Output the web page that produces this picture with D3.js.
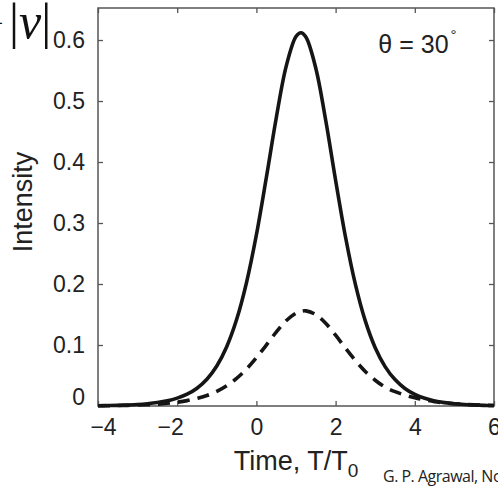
<!DOCTYPE html>
<meta charset="utf-8">
<style>
body { margin: 0; background: #fff; }
svg { display: block; font-family: "Liberation Sans", Arial, sans-serif; }
.frame { fill: none; stroke: #555; stroke-width: 1.5; }
.axis path { display: none; }
.axis line { stroke: #555; stroke-width: 1.3; }
.axis text { fill: #222; font-size: 23px; font-family: "Liberation Sans", Arial, sans-serif; }
.curve { fill: none; stroke: #151515; stroke-width: 3.6; stroke-linejoin: round; }
</style>
<body>
<svg width="498" height="486"></svg>
</body>
<script src="https://d3js.org/d3.v7.min.js"></script>
<script>

// normalized time T/T0
var timeValues = [-4, -3.75, -3.5, -3.25, -3, -2.75, -2.5, -2.25, -2, -1.75, -1.5, -1.25, -1, -0.75, -0.5, -0.25,
  0, 0.25, 0.5, 0.75, 1, 1.125, 1.25, 1.5, 1.75, 2, 2.25, 2.5, 2.75, 3, 3.25, 3.5, 3.75,
  4, 4.25, 4.5, 4.75, 5, 5.25, 5.5, 5.75, 6];

// solid curve
var solidIntensity = [0.0005, 0.0007, 0.001, 0.0016, 0.0024, 0.0037, 0.0056, 0.0084, 0.0129, 0.0193, 0.0292, 0.0439, 0.0656, 0.0972, 0.1417, 0.2024,
  0.2807, 0.3741, 0.4718, 0.5564, 0.6058, 0.612, 0.6048, 0.5537, 0.4684, 0.3702, 0.2771, 0.1994, 0.1395, 0.0956, 0.0646, 0.0433, 0.0288,
  0.0191, 0.0126, 0.0083, 0.0055, 0.0036, 0.0024, 0.0016, 0.001, 0.0007];

// dashed curve
var dashedIntensity = [0.0004, 0.0005, 0.0007, 0.0011, 0.0015, 0.0021, 0.003, 0.0044, 0.0062, 0.0088, 0.0126, 0.0173, 0.0241, 0.0333, 0.0453, 0.0606,
  0.0792, 0.0998, 0.1211, 0.1397, 0.1522, 0.1553, 0.156, 0.1499, 0.1356, 0.1161, 0.0948, 0.0745, 0.0567, 0.0422, 0.031, 0.0235, 0.018,
  0.0135, 0.01, 0.0072, 0.0052, 0.0037, 0.0026, 0.0018, 0.0012, 0.0008];

var xTicks = [-4, -2, 0, 2, 4, 6];
var yTicks = [0, 0.1, 0.2, 0.3, 0.4, 0.5, 0.6];

var svg = d3.select("svg"),
    margin = {top: 8, right: 4, bottom: 80, left: 98},
    width = +svg.attr("width") - margin.left - margin.right,
    height = +svg.attr("height") - margin.top - margin.bottom;

var x = d3.scaleLinear().domain([-4, 6]).range([0, width]),
    y = d3.scaleLinear().domain([0, 0.6525]).range([height, 0]);

var g = svg.append("g")
    .attr("transform", "translate(" + margin.left + "," + margin.top + ")");

// inward ticks on all four sides
g.append("g")
    .attr("class", "axis axis--x")
    .attr("transform", "translate(0," + height + ")")
    .call(d3.axisBottom(x).tickValues(xTicks).tickSizeInner(-5).tickSizeOuter(0).tickPadding(13))
  .selectAll("text")
    .attr("dx", function(d) { return d === -4 ? 5 : (d < 0 ? -7 : 0); });

g.append("g")
    .attr("class", "axis axis--top")
    .call(d3.axisTop(x).tickValues(xTicks).tickSizeInner(-5).tickSizeOuter(0).tickFormat(""));

g.append("g")
    .attr("class", "axis axis--y")
    .call(d3.axisLeft(y).tickValues(yTicks).tickSizeInner(-5).tickSizeOuter(0).tickPadding(13)
      .tickFormat(function(d) { return d === 0 ? "0" : d3.format(".1f")(d); }))
  .selectAll("text")
    .attr("dy", function(d) { return d === 0 ? "-0.05em" : "0.32em"; });

g.append("g")
    .attr("class", "axis axis--right")
    .attr("transform", "translate(" + width + ",0)")
    .call(d3.axisRight(y).tickValues(yTicks).tickSizeInner(-5).tickSizeOuter(0).tickFormat(""));

g.append("rect")
    .attr("class", "frame")
    .attr("width", width)
    .attr("height", height);

var curveLine = d3.line()
    .x(function(d, i) { return x(timeValues[i]); })
    .y(function(d) { return y(d); })
    .curve(d3.curveCatmullRom);

g.append("path")
    .datum(solidIntensity)
    .attr("class", "curve")
    .attr("d", curveLine);

g.append("path")
    .datum(dashedIntensity)
    .attr("class", "curve")
    .attr("stroke-dasharray", "12,8")
    .attr("d", curveLine);

// annotation
var ann = g.append("text")
    .attr("x", x(3.08))
    .attr("y", 45)
    .style("font-size", "25px")
    .style("fill", "#222")
    .text("θ = 30");
ann.append("tspan")
    .attr("dy", -13)
    .attr("dx", 2)
    .style("font-size", "15px")
    .text("°");

// axis titles
var xt = svg.append("text")
    .attr("x", margin.left + width / 2)
    .attr("y", 470)
    .attr("text-anchor", "middle")
    .style("font-size", "27px")
    .style("fill", "#222")
    .text("Time, T/T");
xt.append("tspan")
    .attr("dy", 7)
    .style("font-size", "19px")
    .text("0");

svg.append("text")
    .attr("transform", "translate(32,202) rotate(-90)")
    .attr("text-anchor", "middle")
    .style("font-size", "27px")
    .style("fill", "#222")
    .text("Intensity");

// fragment of slide text at top-left
var frag = svg.append("text")
    .attr("x", 9)
    .attr("y", 38)
    .style("font-family", "'Liberation Serif', 'DejaVu Serif', serif")
    .style("font-size", "50px")
    .style("fill", "#111");
frag.append("tspan").text("|");
frag.append("tspan").style("font-style", "italic").text("v");
frag.append("tspan").text("|");

svg.append("text")
    .attr("x", 3)
    .attr("y", 30)
    .attr("text-anchor", "end")
    .style("font-size", "20px")
    .style("fill", "#111")
    .text("−");

// source credit
svg.append("text")
    .attr("x", 383)
    .attr("y", 482)
    .style("font-family", "'Open Sans', 'Noto Sans', sans-serif")
    .style("font-size", "16px")
    .style("letter-spacing", "-0.5px")
    .style("fill", "#222")
    .text("G. P. Agrawal, Nonlinear Fiber Optics");

</script>
